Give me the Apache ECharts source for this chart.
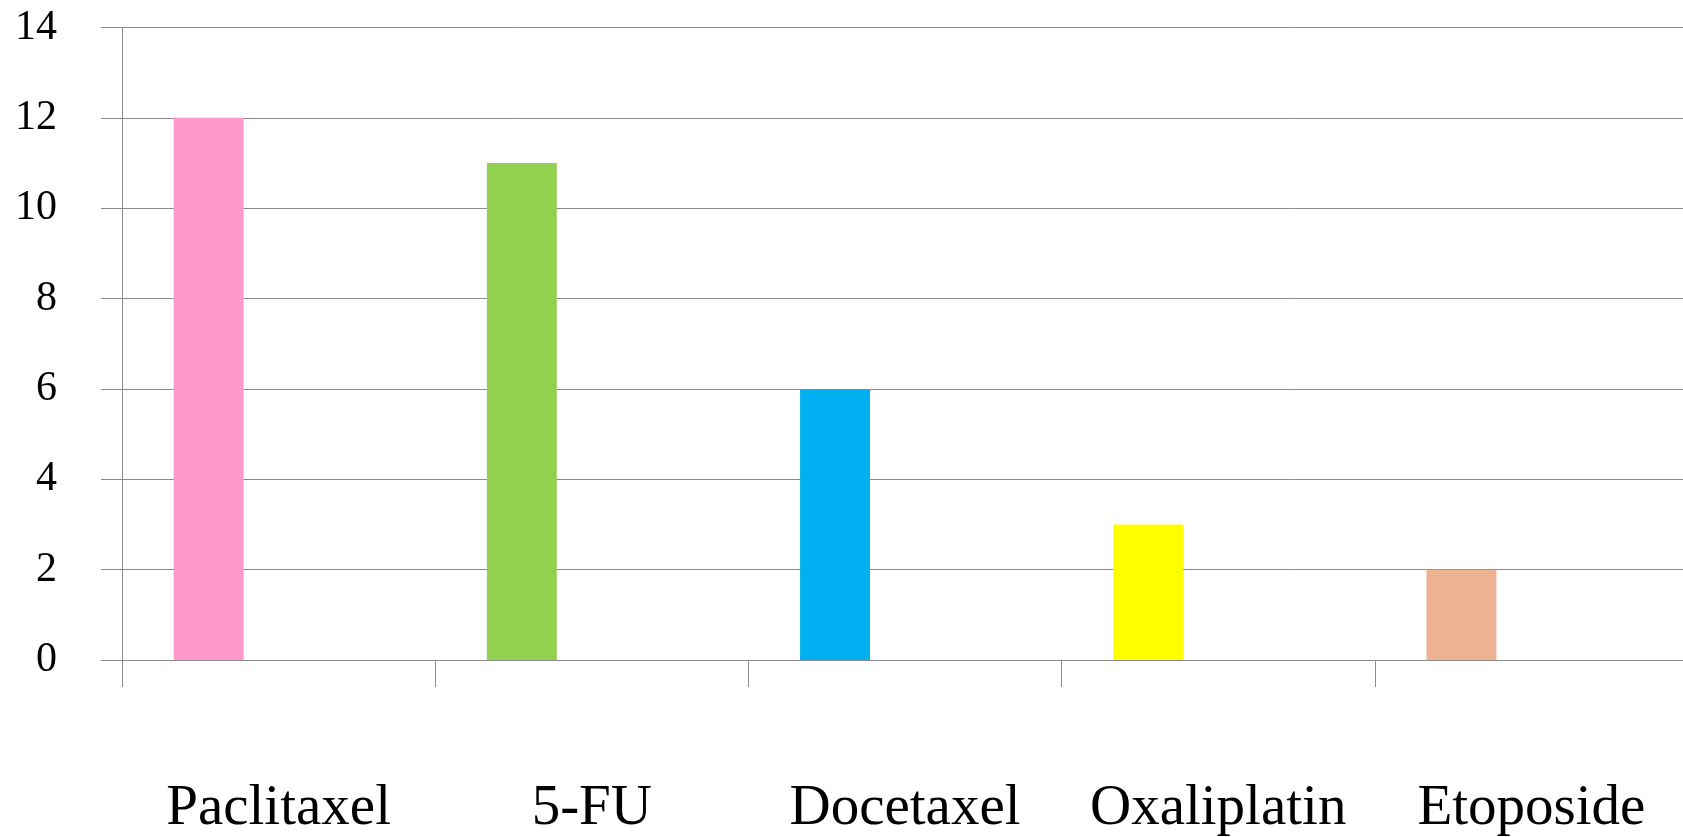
<!DOCTYPE html>
<html>
<head>
<meta charset="utf-8">
<script src="https://cdn.jsdelivr.net/npm/echarts@6/dist/echarts.min.js"></script>
<style>
  html, body { margin: 0; padding: 0; background: #ffffff; }
  #chart { width: 1683px; height: 837px; }
</style>
</head>
<body>
<div id="chart"></div>
<script>
// Drug names along the category axis
const drugs = ['Paclitaxel', '5-FU', 'Docetaxel', 'Oxaliplatin', 'Etoposide'];
// Count for each drug
const counts = [12, 11, 6, 3, 2];
// Fill colour for each drug's bar
const barColors = ['#FF99CC', '#92D050', '#00B0F0', '#FFFF00', '#ECB291'];
// Value axis range
const yMin = 0;
const yMax = 14;
const yStep = 2;

const gridColor = '#8a8a8a';
const serif = '"Liberation Serif", "Times New Roman", serif';

const chart = echarts.init(document.getElementById('chart'), null, { renderer: 'canvas' });

// Each category holds three bar slots; only the first slot carries data,
// which places every bar towards the left of its category.
const emptySlot = drugs.map(() => null);

chart.setOption({
  animation: false,
  backgroundColor: '#ffffff',
  grid: {
    left: 122, right: -5, top: 27.5, bottom: 177,
    containLabel: false,
    outerBoundsMode: 'none'
  },
  xAxis: {
    type: 'category',
    data: drugs,
    boundaryGap: true,
    axisLine: { show: true, lineStyle: { color: gridColor, width: 1 } },
    axisTick: { show: true, length: 27, lineStyle: { color: gridColor, width: 1 } },
    axisLabel: {
      margin: 121,
      color: '#000000',
      fontFamily: serif,
      fontSize: 57,
      interval: 0
    },
    splitLine: { show: false }
  },
  yAxis: {
    type: 'value',
    min: yMin,
    max: yMax,
    interval: yStep,
    axisLine: { show: true, lineStyle: { color: gridColor, width: 1 } },
    axisTick: { show: true, length: 21, lineStyle: { color: gridColor, width: 1 } },
    axisLabel: {
      margin: 65,
      color: '#000000',
      fontFamily: serif,
      fontSize: 42
    },
    splitLine: { show: true, lineStyle: { color: gridColor, width: 1 } }
  },
  series: [
    {
      type: 'bar',
      data: counts.map((v, i) => ({ value: v, itemStyle: { color: barColors[i] } })),
      barGap: '0%',
      barCategoryGap: '33%'
    },
    { type: 'bar', data: emptySlot, barGap: '0%', barCategoryGap: '33%' },
    { type: 'bar', data: emptySlot, barGap: '0%', barCategoryGap: '33%' }
  ]
});
</script>
</body>
</html>
